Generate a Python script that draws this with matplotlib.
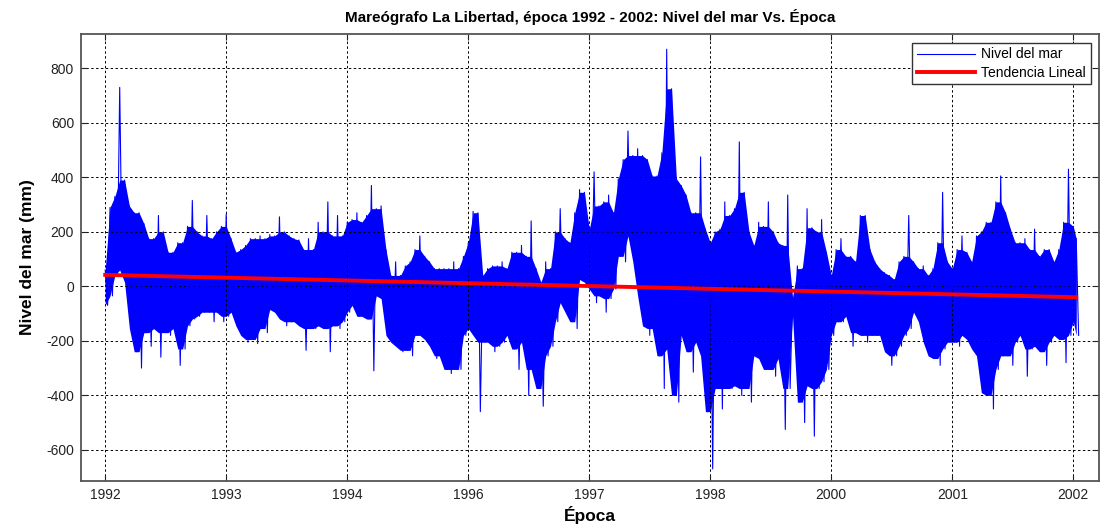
import matplotlib
matplotlib.use('Agg')
import matplotlib.pyplot as plt
import numpy as np

plt.rcParams['font.family'] = ['Liberation Sans', 'DejaVu Sans']
plt.rcParams['axes.unicode_minus'] = False

# sample times (decimal years), one envelope pair per 0.05 yr
years = np.round(np.arange(1992.0, 2002.001, 0.05), 2).tolist() + [2002.03]

# upper envelope of sea level (mm)
upper = [60, 290, 330, 730, 390, 295, 270, 270, 230, 175,
         175, 260, 200, 125, 125, 160, 160, 220, 315, 200,
         185, 260, 175, 200, 220, 265, 175, 125, 135, 150,
         175, 175, 185, 175, 190, 185, 255, 200, 185, 175,
         170, 135, 175, 135, 235, 200, 310, 185, 260, 185,
         235, 245, 270, 235, 260, 370, 285, 295, 135, 40,
         90, 40, 75, 90, 135, 185, 110, 90, 65, 65,
         65, 65, 90, 65, 110, 160, 275, 270, 40, 65,
         75, 75, 90, 65, 125, 125, 150, 110, 240, 65,
         15, 90, 65, 200, 285, 175, 160, 270, 355, 345,
         210, 420, 295, 310, 335, 270, 395, 465, 570, 480,
         505, 480, 465, 405, 405, 490, 870, 725, 395, 370,
         335, 270, 270, 475, 210, 160, 200, 210, 310, 260,
         285, 530, 345, 200, 150, 235, 220, 310, 200, 160,
         150, 335, -40, 75, 65, 285, 215, 200, 245, 125,
         40, 135, 175, 110, 110, 90, 260, 260, 135, 90,
         65, 50, 40, 25, 90, 110, 260, 90, 65, 75,
         40, 65, 160, 345, 90, 65, 135, 185, 125, 90,
         185, 200, 235, 235, 310, 405, 270, 210, 160, 160,
         175, 135, 210, 110, 135, 135, 90, 135, 235, 430,
         220, 175]

# lower envelope of sea level (mm)
lower = [-70, -35, 40, 60, 15, -155, -240, -300, -170, -220,
         -155, -260, -170, -180, -155, -290, -230, -145, -120, -110,
         -95, -95, -130, -95, -130, -110, -95, -145, -180, -205,
         -195, -210, -155, -170, -85, -95, -120, -145, -130, -130,
         -145, -235, -155, -155, -145, -155, -240, -145, -155, -130,
         -95, -70, -110, -110, -120, -310, -35, -45, -180, -205,
         -220, -240, -235, -255, -180, -180, -195, -220, -265, -255,
         -305, -320, -305, -305, -180, -155, -180, -460, -205, -205,
         -240, -220, -205, -180, -230, -305, -205, -400, -305, -375,
         -440, -255, -220, -130, -60, -95, -130, -155, 25, 15,
         -10, -60, -35, -95, -45, -10, 110, 90, 185, 90,
         -35, -145, -180, -155, -255, -375, -230, -400, -425, -180,
         -240, -315, -205, -255, -460, -670, -375, -450, -375, -375,
         -365, -400, -375, -425, -255, -265, -305, -305, -330, -265,
         -525, -375, -110, -425, -500, -365, -550, -375, -350, -305,
         -180, -130, -130, -110, -220, -170, -180, -205, -180, -180,
         -180, -240, -290, -255, -220, -180, -155, -95, -130, -205,
         -255, -265, -290, -230, -205, -205, -220, -180, -195, -230,
         -255, -390, -400, -450, -305, -255, -255, -290, -205, -180,
         -330, -230, -220, -240, -290, -205, -180, -195, -280, -180,
         -130, -180]

trend_years = [1992.0, 2002.03]
trend_mm = [42, -40]

tick_pos = [1992.0, 1993.25, 1994.5, 1995.75, 1997.0, 1998.25, 1999.5, 2000.75, 2002.0]
tick_lab = ['1992', '1993', '1994', '1996', '1997', '1998', '2000', '2001', '2002']

# zig-zag between the envelopes so it looks like the dense hourly record
t = []
v = []
for yr, hi, lo in zip(years, upper, lower):
    t += [yr, yr + 0.025]
    v += [hi, lo]

# solid core of the band: median of each envelope point and its neighbours,
# so single spikes stay thin lines
up = np.array(upper, dtype=float)
lo = np.array(lower, dtype=float)
core_hi = np.median(np.vstack([np.r_[up[0], up[:-1]], up, np.r_[up[1:], up[-1]]]), axis=0)
core_lo = np.median(np.vstack([np.r_[lo[0], lo[:-1]], lo, np.r_[lo[1:], lo[-1]]]), axis=0)
core_hi = np.minimum(core_hi, up)
core_lo = np.maximum(core_lo, lo)
core_hi = np.maximum(core_hi, core_lo)

fig = plt.figure(figsize=(11.14, 5.27), dpi=100)
ax = fig.add_axes([0.0727, 0.088, 0.9138, 0.847])

ax.fill_between(years, core_lo, core_hi, color='#0000ff', lw=0)
ax.plot(t, v, color='#0000ff', lw=0.8, label='Nivel del mar')
ax.plot(trend_years, trend_mm, color='#ff0000', lw=2.8, label='Tendencia Lineal')

ax.set_xlim(1991.75, 2002.265)
ax.set_ylim(-713, 925)
ax.set_xticks(tick_pos)
ax.set_xticklabels(tick_lab)
ax.set_yticks(np.arange(-600, 801, 200))

ax.grid(True, color='k', linestyle=(0, (2.5, 2.5)), linewidth=0.7)
ax.tick_params(direction='in', top=True, right=True, length=4, labelsize=10, pad=5,
               colors='#222222')
for s in ax.spines.values():
    s.set_color('#555555')
    s.set_linewidth(1.3)

ax.set_title('Mareógrafo La Libertad, época 1992 - 2002: Nivel del mar Vs. Época',
             fontsize=11, fontweight='bold', pad=9)
ax.set_xlabel('Época', fontsize=12.5, fontweight='bold', labelpad=3)
ax.set_ylabel('Nivel del mar (mm)', fontsize=12.5, fontweight='bold', labelpad=8)

leg = ax.legend(loc='upper right', fontsize=10, fancybox=False, framealpha=1,
                edgecolor='#333333', borderaxespad=0.6, handlelength=4.2,
                borderpad=0.35, labelspacing=0.3, handletextpad=0.4)
leg.get_frame().set_linewidth(1.0)

fig.savefig('out.png', dpi=100)
